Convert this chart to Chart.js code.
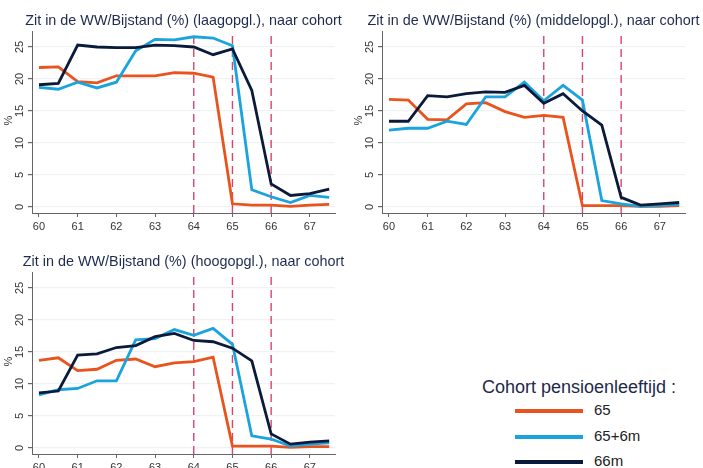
<!DOCTYPE html>
<html>
<head>
<meta charset="utf-8">
<script src="https://cdn.jsdelivr.net/npm/chart.js@4.4.1/dist/chart.umd.min.js"></script>
<style>
  html, body { margin: 0; padding: 0; background: #fff; }
  body { width: 703px; height: 468px; overflow: hidden; position: relative; font-family: 'Liberation Sans', Arial, sans-serif; }
  .panel { position: absolute; width: 370px; height: 240px; }
  .legend { position: absolute; left: 482px; top: 377px; color: #1f2a4a; }
  .legend .ttl { font-size: 18px; margin-bottom: 2px; white-space: nowrap; }
  .legend .row { position: relative; height: 25.5px; font-size: 15px; color: #222; }
  .legend .sw { position: absolute; left: 33px; top: 9px; width: 68px; height: 4px; }
  .legend .lb { position: absolute; left: 112px; top: 1px; }
</style>
</head>
<body>
<div class="panel" style="left:0;top:0"><canvas id="c1"></canvas></div>
<div class="panel" style="left:350px;top:0"><canvas id="c2"></canvas></div>
<div class="panel" style="left:0;top:241px"><canvas id="c3"></canvas></div>
<div class="legend" id="legend"></div>

<script>
// Data
const ages   = [60, 60.5, 61, 61.5, 62, 62.5, 63, 63.5, 64, 64.5, 65, 65.5, 66, 66.5, 67, 67.5];
const xTicks = [60, 61, 62, 63, 64, 65, 66, 67];
const yTicks = [0, 5, 10, 15, 20, 25];
const pensionLines = [64, 65, 66];

const cohorts = ['65', '65+6m', '66m'];
const colors  = ['#e9531d', '#1aa3dd', '#0b1a3b'];

// laagopgeleid
const laag65   = [21.8, 21.9, 19.6, 19.4, 20.5, 20.5, 20.5, 21.0, 20.9, 20.3, 0.5, 0.3, 0.3, 0.1, 0.3, 0.4];
const laag65_6 = [18.7, 18.4, 19.5, 18.6, 19.5, 24.4, 26.2, 26.1, 26.6, 26.4, 25.2, 2.7, 1.6, 0.7, 1.8, 1.5];
const laag66   = [19.1, 19.3, 25.3, 25.0, 24.9, 24.9, 25.3, 25.2, 25.0, 23.8, 24.7, 18.2, 3.6, 1.8, 2.1, 2.8];

// middelopgeleid
const midd65   = [16.8, 16.7, 13.7, 13.6, 16.1, 16.3, 14.9, 14.0, 14.3, 14.0, 0.2, 0.2, 0.2, 0.1, 0.1, 0.2];
const midd65_6 = [12.0, 12.3, 12.3, 13.4, 12.9, 17.2, 17.2, 19.5, 16.6, 19.0, 16.7, 1.0, 0.5, 0.1, 0.2, 0.4];
const midd66   = [13.4, 13.4, 17.4, 17.2, 17.7, 18.0, 17.9, 19.0, 16.2, 17.7, 15.0, 12.8, 1.5, 0.3, 0.5, 0.7];

// hoogopgeleid
const hoog65   = [13.7, 14.1, 12.1, 12.3, 13.7, 13.9, 12.7, 13.3, 13.5, 14.2, 0.3, 0.3, 0.3, 0.1, 0.2, 0.2];
const hoog65_6 = [8.3, 9.1, 9.3, 10.5, 10.5, 16.9, 17.1, 18.5, 17.6, 18.7, 16.2, 1.9, 1.4, 0.3, 0.6, 0.8];
const hoog66   = [8.6, 8.9, 14.5, 14.7, 15.7, 16.0, 17.4, 17.9, 16.8, 16.6, 15.6, 13.6, 2.2, 0.6, 0.9, 1.1];

const Y_MIN = -0.94, Y_MAX = 27.5;
const X_MIN = 59.82, X_MAX = 67.65;
const FONT = "'Liberation Sans', Arial, sans-serif";

// title centred on the plot area, rotated y tick labels and '%'
const panelText = {
  id: 'panelText',
  afterDraw(chart, args, opts) {
    const ctx = chart.ctx;
    const y = chart.scales.y;
    const area = chart.chartArea;
    ctx.save();
    ctx.fillStyle = '#1f2a4f';
    ctx.font = '14.4px ' + FONT;
    ctx.textAlign = 'center';
    ctx.textBaseline = 'middle';
    ctx.fillText(opts.title, (area.left + area.right) / 2, 21);

    ctx.fillStyle = '#333';
    ctx.font = '11px ' + FONT;
    yTicks.forEach(v => {
      ctx.save();
      ctx.translate(20, y.getPixelForValue(v));
      ctx.rotate(-Math.PI / 2);
      ctx.fillText(String(v), 0, 0);
      ctx.restore();
    });
    ctx.translate(9, y.getPixelForValue(13.5));
    ctx.rotate(-Math.PI / 2);
    ctx.fillText('%', 0, 0);
    ctx.restore();
  }
};

function makeSeries(arr) {
  return arr.map((v, i) => ({ x: ages[i], y: v }));
}

function makePanel(id, title, s65, s65_6, s66) {
  const series = [s65, s65_6, s66];
  const datasets = [];
  // draw 66m on top
  [2, 1, 0].forEach((k, n) => {
    datasets.push({
      label: cohorts[k],
      data: makeSeries(series[k]),
      borderColor: colors[k],
      borderWidth: 2.8,
      pointRadius: 0,
      tension: 0,
      order: n,
    });
  });
  pensionLines.forEach(a => {
    datasets.push({
      label: 'pension ' + a,
      data: [{ x: a, y: Y_MIN }, { x: a, y: Y_MAX }],
      borderColor: '#d8456c',
      borderWidth: 1.4,
      borderDash: [8, 5],
      pointRadius: 0,
      order: 10,
    });
  });

  new Chart(document.getElementById(id), {
    type: 'line',
    data: { datasets },
    plugins: [panelText],
    options: {
      responsive: true,
      maintainAspectRatio: false,
      animation: false,
      layout: { padding: { left: 0, right: 35, top: 31, bottom: 0 } },
      plugins: {
        legend: { display: false },
        tooltip: { enabled: false },
        title: { display: false },
        panelText: { title },
      },
      scales: {
        x: {
          type: 'linear',
          min: X_MIN,
          max: X_MAX,
          afterBuildTicks: s => { s.ticks = xTicks.map(v => ({ value: v })); },
          afterFit: s => { s.height = 27; },
          grid: { drawOnChartArea: false, tickLength: 4, tickColor: '#666' },
          border: { color: '#666', width: 1 },
          ticks: { color: '#333', font: { size: 11, family: FONT }, padding: 3, maxRotation: 0 },
        },
        y: {
          type: 'linear',
          min: Y_MIN,
          max: Y_MAX,
          afterBuildTicks: s => { s.ticks = yTicks.map(v => ({ value: v })); },
          afterFit: s => { s.width = 32; },
          grid: { color: '#edf2f3', lineWidth: 1.2, tickLength: 4, tickColor: '#666' },
          border: { color: '#666', width: 1 },
          ticks: { display: false },
        },
      },
    },
  });
}

makePanel('c1', 'Zit in de WW/Bijstand (%) (laagopgl.), naar cohort', laag65, laag65_6, laag66);
makePanel('c2', 'Zit in de WW/Bijstand (%) (middelopgl.), naar cohort', midd65, midd65_6, midd66);
makePanel('c3', 'Zit in de WW/Bijstand (%) (hoogopgl.), naar cohort', hoog65, hoog65_6, hoog66);

// legend
const legendEl = document.getElementById('legend');
let html = '<div class="ttl">Cohort pensioenleeftijd :</div>';
cohorts.forEach((c, i) => {
  html += `<div class="row"><span class="sw" style="background:${colors[i]}"></span><span class="lb">${c}</span></div>`;
});
legendEl.innerHTML = html;
</script>
</body>
</html>
